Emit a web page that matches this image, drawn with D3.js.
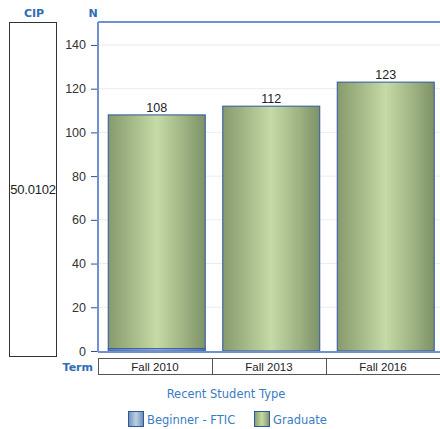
<!DOCTYPE html>
<html>
<head>
<meta charset="utf-8">
<script src="https://cdn.jsdelivr.net/npm/d3@7"></script>
<style>
  body { margin: 0; background: #fff; }
  svg { display: block; }
</style>
</head>
<body>
<div id="chart-container"></div>
<script>
const terms = ['Fall 2010', 'Fall 2013', 'Fall 2016']
const beginnerValues = [1, 0, 0]
const graduateValues = [107, 112, 123]
const totalLabels = [108, 112, 123]
const yTicks = [0, 20, 40, 60, 80, 100, 120, 140]
const seriesNames = ['Beginner - FTIC', 'Graduate']
const cipLabel = '50.0102'

const width = 440
const height = 429
const plotLeft = 98
const plotRight = 440
const plotTop = 22
const plotBottom = 351
const blue = '#2f6db5'
const axisBlue = '#7090d0'

const svg = d3.select('#chart-container')
  .append('svg')
  .attr('width', width)
  .attr('height', height)

const defs = svg.append('defs')
const grads = {
  grad: ['#869a6c', '#a6ba88', '#c6daa6', '#a3b786', '#7d9266'],
  beg: ['#6f8fb4', '#97b2cf', '#bcd0e4', '#94aecb', '#6a88ad'],
}
Object.entries(grads).forEach(([id, cols]) => {
  const g = defs.append('linearGradient').attr('id', id)
    .attr('x1', '0%').attr('x2', '100%').attr('y1', '0%').attr('y2', '0%')
  cols.forEach((c, i) => {
    g.append('stop').attr('offset', `${(i / (cols.length - 1)) * 100}%`).attr('stop-color', c)
  })
})

// term cells and bars use slightly different bands (as in the original)
const x = d3.scaleBand().domain(terms).range([plotLeft, plotRight])
const xBar = d3.scaleBand().domain(terms).range([99.5, 443])
const y = d3.scaleLinear().domain([0, 150.5]).range([plotBottom, plotTop])
const barW = 97

// gridlines
svg.append('g')
  .selectAll('line')
  .data(yTicks.filter(d => d > 0))
  .join('line')
  .attr('x1', plotLeft).attr('x2', plotRight)
  .attr('y1', d => y(d)).attr('y2', d => y(d))
  .attr('stroke', '#ececec')

// y axis
const yAxis = svg.append('g')
  .attr('transform', `translate(${plotLeft},0)`)
  .call(d3.axisLeft(y).tickValues(yTicks).tickSize(7).tickPadding(5))
yAxis.select('.domain').remove()
yAxis.selectAll('.tick line').attr('stroke', '#2a4f9c')
yAxis.selectAll('.tick text')
  .attr('fill', '#333')
  .attr('font-family', 'Liberation Sans, Arial, sans-serif')
  .attr('font-size', 12.5)

// bars (stacked)
const barG = svg.append('g')
barG.selectAll('rect.grad')
  .data(terms)
  .join('rect')
  .attr('class', 'grad')
  .attr('x', d => xBar(d) + (xBar.bandwidth() - barW) / 2)
  .attr('width', barW)
  .attr('y', (d, i) => y(beginnerValues[i] + graduateValues[i]))
  .attr('height', (d, i) => y(beginnerValues[i]) - y(beginnerValues[i] + graduateValues[i]))
  .attr('fill', 'url(#grad)')
  .attr('stroke', '#2d55a8')
  .attr('stroke-width', 1)

barG.selectAll('rect.beg')
  .data(terms.filter((d, i) => beginnerValues[i] > 0))
  .join('rect')
  .attr('class', 'beg')
  .attr('x', d => xBar(d) + (xBar.bandwidth() - barW) / 2)
  .attr('width', barW)
  .attr('y', d => y(beginnerValues[terms.indexOf(d)]))
  .attr('height', d => y(0) - y(beginnerValues[terms.indexOf(d)]))
  .attr('fill', 'url(#beg)')
  .attr('stroke', '#2d55a8')
  .attr('stroke-width', 1)

// value labels
svg.append('g')
  .selectAll('text')
  .data(terms)
  .join('text')
  .attr('x', d => xBar(d) + xBar.bandwidth() / 2)
  .attr('y', (d, i) => y(totalLabels[i]) - 3)
  .attr('text-anchor', 'middle')
  .attr('font-family', 'Liberation Sans, Arial, sans-serif')
  .attr('font-size', 12.5)
  .attr('fill', '#222')
  .text((d, i) => totalLabels[i])

// plot frame lines
svg.append('line')
  .attr('x1', plotLeft).attr('x2', plotRight)
  .attr('y1', plotTop).attr('y2', plotTop)
  .attr('stroke', axisBlue).attr('stroke-width', 2)
svg.append('line')
  .attr('x1', plotLeft).attr('x2', plotLeft)
  .attr('y1', plotTop).attr('y2', plotBottom + 1)
  .attr('stroke', axisBlue).attr('stroke-width', 2)
svg.append('line')
  .attr('x1', plotLeft).attr('x2', plotRight)
  .attr('y1', plotBottom + 1).attr('y2', plotBottom + 1)
  .attr('stroke', axisBlue).attr('stroke-width', 2)

// header labels
const headFont = 'DejaVu Sans, Verdana, sans-serif'
svg.append('text')
  .attr('x', 34).attr('y', 17)
  .attr('text-anchor', 'middle')
  .attr('font-family', headFont).attr('font-weight', 'bold').attr('font-size', 11)
  .attr('fill', blue).text('CIP')
svg.append('text')
  .attr('x', 93).attr('y', 17)
  .attr('text-anchor', 'middle')
  .attr('font-family', headFont).attr('font-weight', 'bold').attr('font-size', 11)
  .attr('fill', blue).text('N')

// CIP box
svg.append('rect')
  .attr('x', 9.5).attr('y', 22.5).attr('width', 47).attr('height', 334)
  .attr('fill', 'none').attr('stroke', '#333')
svg.append('text')
  .attr('x', 33).attr('y', 194)
  .attr('text-anchor', 'middle')
  .attr('font-family', 'Liberation Sans, Arial, sans-serif').attr('font-size', 13)
  .attr('letter-spacing', -0.2)
  .attr('fill', '#222').text(cipLabel)

// Term row
svg.append('text')
  .attr('x', 93).attr('y', 371)
  .attr('text-anchor', 'end')
  .attr('font-family', headFont).attr('font-weight', 'bold').attr('font-size', 11)
  .attr('fill', blue).text('Term')
const termG = svg.append('g')
termG.selectAll('rect')
  .data(terms)
  .join('rect')
  .attr('x', d => x(d) + 0.5)
  .attr('y', 358.5)
  .attr('width', x.bandwidth())
  .attr('height', 16)
  .attr('fill', 'none')
  .attr('stroke', '#555')
termG.selectAll('text')
  .data(terms)
  .join('text')
  .attr('x', d => x(d) + x.bandwidth() / 2)
  .attr('y', 371)
  .attr('text-anchor', 'middle')
  .attr('font-family', 'Liberation Sans, Arial, sans-serif').attr('font-size', 11.5)
  .attr('fill', '#222')
  .text(d => d)

// legend
svg.append('text')
  .attr('x', 226).attr('y', 398)
  .attr('text-anchor', 'middle')
  .attr('font-family', headFont).attr('font-size', 11.5)
  .attr('fill', '#3a7cc4').text('Recent Student Type')

const legendX = [128, 254]
const legend = svg.append('g')
  .selectAll('g')
  .data(seriesNames)
  .join('g')
  .attr('transform', (d, i) => `translate(${legendX[i]},411)`)
legend.append('rect')
  .attr('x', 0.5).attr('y', 0.5).attr('width', 15).attr('height', 15)
  .attr('fill', (d, i) => i === 0 ? 'url(#beg)' : 'url(#grad)')
  .attr('stroke', '#2d55a8')
legend.append('text')
  .attr('x', 19).attr('y', 12.5)
  .attr('font-family', headFont).attr('font-size', 11.5)
  .attr('fill', '#3a7cc4')
  .text(d => d)
</script>
</body>
</html>
